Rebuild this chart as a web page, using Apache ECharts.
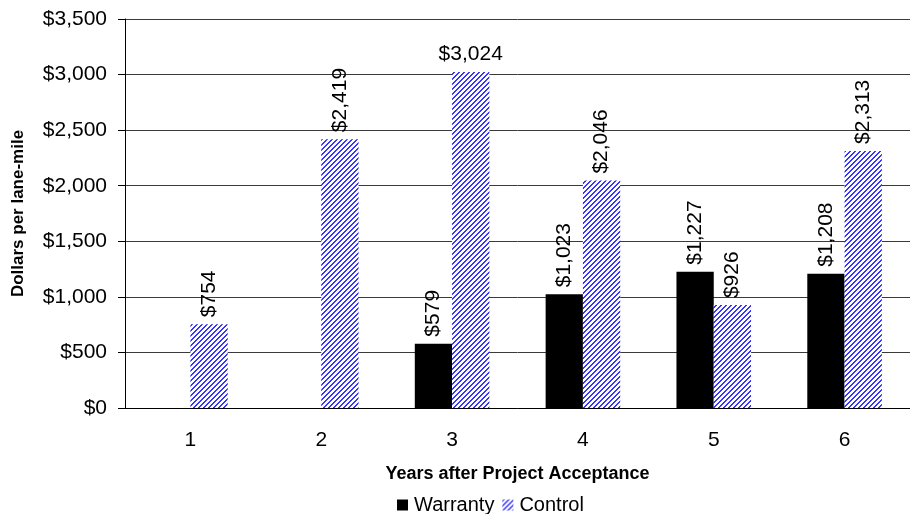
<!DOCTYPE html>
<html>
<head>
<meta charset="utf-8">
<script src="https://cdn.jsdelivr.net/npm/echarts@6/dist/echarts.min.js"></script>
<style>
  html, body { margin: 0; padding: 0; background: #fff; }
  #chart { width: 910px; height: 514px; }
</style>
</head>
<body>
<div id="chart"></div>
<script>
var years = ["1", "2", "3", "4", "5", "6"];
var warranty = [null, null, 579, 1023, 1227, 1208];
var control = [754, 2419, 3024, 2046, 926, 2313];
var yTicks = [0, 500, 1000, 1500, 2000, 2500, 3000, 3500];

// blue diagonal hatch like the original
function hatch() {
  var c = document.createElement("canvas");
  c.width = 5; c.height = 5;
  var ctx = c.getContext("2d");
  ctx.fillStyle = "#fff";
  ctx.fillRect(0, 0, 5, 5);
  ctx.fillStyle = "#3535ff";
  for (var x = 0; x < 5; x++) {
    for (var y = 0; y < 5; y++) {
      var k = (x + y) % 5;
      if (k === 0 || k === 1) ctx.fillRect(x, y, 1, 1);
    }
  }
  return c;
}

function money(v) {
  return "$" + Number(v).toLocaleString("en-US");
}

var font = "Liberation Sans, Arial, sans-serif";
var rotLabel = {
  show: true,
  position: "top",
  rotate: 90,
  align: "left",
  verticalAlign: "middle",
  distance: 7,
  color: "#000",
  fontSize: 21,
  fontFamily: font,
  formatter: function (p) { return money(p.value); }
};

var controlData = control.map(function (v) {
  if (v === 3024) {
    return { value: v, label: { rotate: 0, align: "center", verticalAlign: "bottom", distance: 7 } };
  }
  return v;
});

var chart = echarts.init(document.getElementById("chart"));
chart.setOption({
  animation: false,
  textStyle: { fontFamily: font },
  grid: { left: 125, right: -7, top: 19, bottom: 106 },
  legend: {
    top: 490,
    left: 392,
    itemWidth: 11,
    itemHeight: 11,
    itemGap: 8,
    icon: "rect",
    textStyle: { fontSize: 20, color: "#000", fontFamily: font, padding: [0, 0, 0, 1] },
    data: ["Warranty", "Control"]
  },
  xAxis: {
    type: "category",
    data: years,
    name: "Years after Project Acceptance",
    nameLocation: "middle",
    nameGap: 57,
    nameTextStyle: { fontSize: 18, fontWeight: "bold", color: "#000" },
    axisLine: { lineStyle: { color: "#000" } },
    axisTick: { length: 7, lineStyle: { color: "#000" } },
    axisLabel: { fontSize: 21, color: "#000", margin: 22 }
  },
  yAxis: {
    type: "value",
    min: yTicks[0],
    max: yTicks[yTicks.length - 1],
    interval: 500,
    name: "Dollars per lane-mile",
    nameLocation: "middle",
    nameGap: 98,
    nameTextStyle: { fontSize: 17, fontWeight: "bold", color: "#000" },
    axisLine: { show: true, lineStyle: { color: "#000" } },
    axisTick: { show: true, length: 7, lineStyle: { color: "#000" } },
    axisLabel: { fontSize: 21, color: "#000", margin: 18, formatter: money },
    splitLine: { lineStyle: { color: "#3a3a3a" } }
  },
  series: [
    {
      name: "Warranty",
      type: "bar",
      data: warranty,
      barGap: "0%",
      barCategoryGap: "43%",
      itemStyle: { color: "#000" },
      label: rotLabel
    },
    {
      name: "Control",
      type: "bar",
      data: controlData,
      itemStyle: { color: { image: hatch(), repeat: "repeat" } },
      label: rotLabel
    }
  ]
});
</script>
</body>
</html>
